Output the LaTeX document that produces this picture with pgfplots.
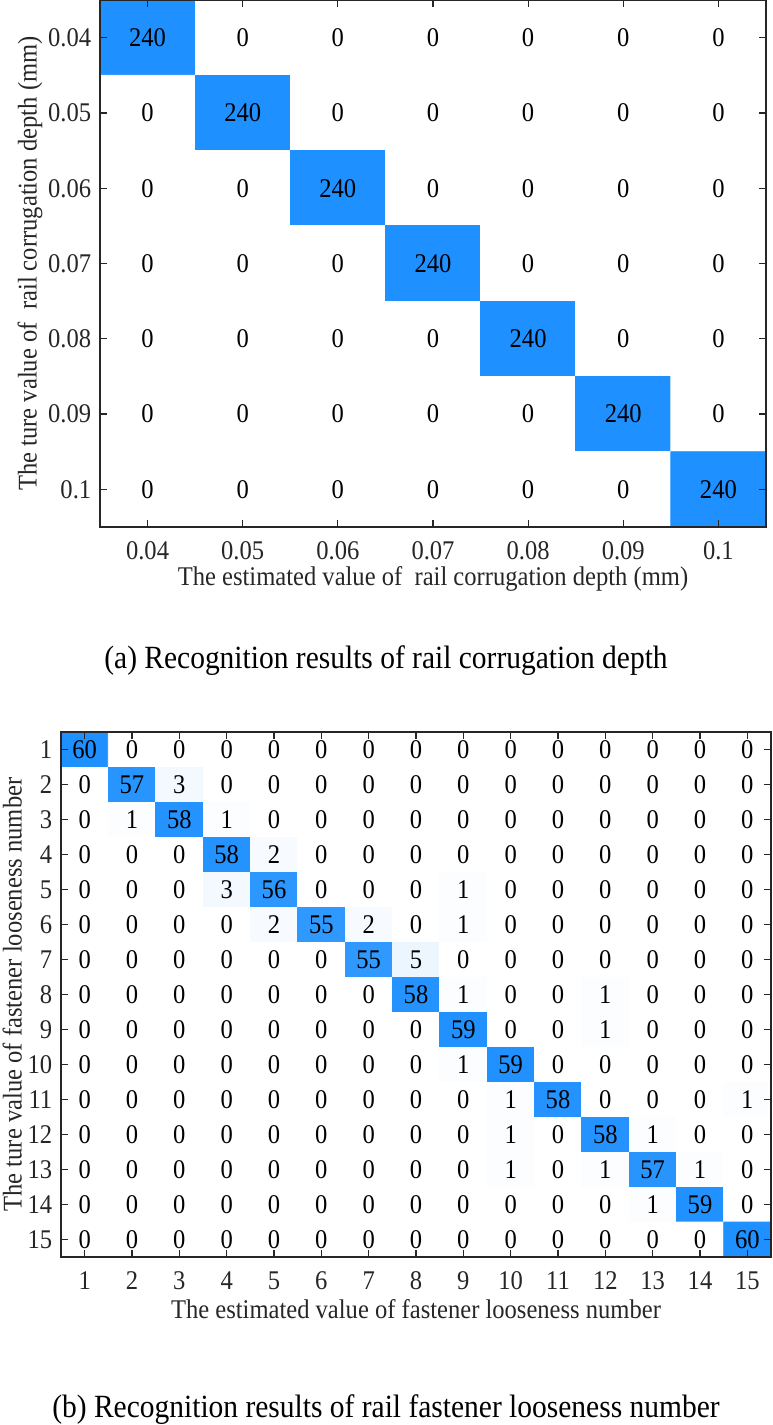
\documentclass[border=0pt]{standalone}
\usepackage{fontspec}
\setmainfont{Liberation Serif}[FakeStretch=0.91]
\usepackage{pgfplots}
\usepackage{pgfplotstable}
\pgfplotsset{compat=1.18}
\definecolor{mblue}{RGB}{30,144,255}
\definecolor{axgray}{RGB}{38,38,38}
\newcommand\mf{\fontsize{13.5}{16}\selectfont}
\newcommand\cf{\fontsize{16.2}{19.5}\selectfont}

\pgfplotstableread[row sep=\\]{
x y c\\
1 1 240\\ 2 1 0\\ 3 1 0\\ 4 1 0\\ 5 1 0\\ 6 1 0\\ 7 1 0\\
1 2 0\\ 2 2 240\\ 3 2 0\\ 4 2 0\\ 5 2 0\\ 6 2 0\\ 7 2 0\\
1 3 0\\ 2 3 0\\ 3 3 240\\ 4 3 0\\ 5 3 0\\ 6 3 0\\ 7 3 0\\
1 4 0\\ 2 4 0\\ 3 4 0\\ 4 4 240\\ 5 4 0\\ 6 4 0\\ 7 4 0\\
1 5 0\\ 2 5 0\\ 3 5 0\\ 4 5 0\\ 5 5 240\\ 6 5 0\\ 7 5 0\\
1 6 0\\ 2 6 0\\ 3 6 0\\ 4 6 0\\ 5 6 0\\ 6 6 240\\ 7 6 0\\
1 7 0\\ 2 7 0\\ 3 7 0\\ 4 7 0\\ 5 7 0\\ 6 7 0\\ 7 7 240\\
}\tabA

\pgfplotstableread[row sep=\\]{
x y c\\
1 1 60\\ 2 1 0\\ 3 1 0\\ 4 1 0\\ 5 1 0\\ 6 1 0\\ 7 1 0\\ 8 1 0\\ 9 1 0\\ 10 1 0\\ 11 1 0\\ 12 1 0\\ 13 1 0\\ 14 1 0\\ 15 1 0\\
1 2 0\\ 2 2 57\\ 3 2 3\\ 4 2 0\\ 5 2 0\\ 6 2 0\\ 7 2 0\\ 8 2 0\\ 9 2 0\\ 10 2 0\\ 11 2 0\\ 12 2 0\\ 13 2 0\\ 14 2 0\\ 15 2 0\\
1 3 0\\ 2 3 1\\ 3 3 58\\ 4 3 1\\ 5 3 0\\ 6 3 0\\ 7 3 0\\ 8 3 0\\ 9 3 0\\ 10 3 0\\ 11 3 0\\ 12 3 0\\ 13 3 0\\ 14 3 0\\ 15 3 0\\
1 4 0\\ 2 4 0\\ 3 4 0\\ 4 4 58\\ 5 4 2\\ 6 4 0\\ 7 4 0\\ 8 4 0\\ 9 4 0\\ 10 4 0\\ 11 4 0\\ 12 4 0\\ 13 4 0\\ 14 4 0\\ 15 4 0\\
1 5 0\\ 2 5 0\\ 3 5 0\\ 4 5 3\\ 5 5 56\\ 6 5 0\\ 7 5 0\\ 8 5 0\\ 9 5 1\\ 10 5 0\\ 11 5 0\\ 12 5 0\\ 13 5 0\\ 14 5 0\\ 15 5 0\\
1 6 0\\ 2 6 0\\ 3 6 0\\ 4 6 0\\ 5 6 2\\ 6 6 55\\ 7 6 2\\ 8 6 0\\ 9 6 1\\ 10 6 0\\ 11 6 0\\ 12 6 0\\ 13 6 0\\ 14 6 0\\ 15 6 0\\
1 7 0\\ 2 7 0\\ 3 7 0\\ 4 7 0\\ 5 7 0\\ 6 7 0\\ 7 7 55\\ 8 7 5\\ 9 7 0\\ 10 7 0\\ 11 7 0\\ 12 7 0\\ 13 7 0\\ 14 7 0\\ 15 7 0\\
1 8 0\\ 2 8 0\\ 3 8 0\\ 4 8 0\\ 5 8 0\\ 6 8 0\\ 7 8 0\\ 8 8 58\\ 9 8 1\\ 10 8 0\\ 11 8 0\\ 12 8 1\\ 13 8 0\\ 14 8 0\\ 15 8 0\\
1 9 0\\ 2 9 0\\ 3 9 0\\ 4 9 0\\ 5 9 0\\ 6 9 0\\ 7 9 0\\ 8 9 0\\ 9 9 59\\ 10 9 0\\ 11 9 0\\ 12 9 1\\ 13 9 0\\ 14 9 0\\ 15 9 0\\
1 10 0\\ 2 10 0\\ 3 10 0\\ 4 10 0\\ 5 10 0\\ 6 10 0\\ 7 10 0\\ 8 10 0\\ 9 10 1\\ 10 10 59\\ 11 10 0\\ 12 10 0\\ 13 10 0\\ 14 10 0\\ 15 10 0\\
1 11 0\\ 2 11 0\\ 3 11 0\\ 4 11 0\\ 5 11 0\\ 6 11 0\\ 7 11 0\\ 8 11 0\\ 9 11 0\\ 10 11 1\\ 11 11 58\\ 12 11 0\\ 13 11 0\\ 14 11 0\\ 15 11 1\\
1 12 0\\ 2 12 0\\ 3 12 0\\ 4 12 0\\ 5 12 0\\ 6 12 0\\ 7 12 0\\ 8 12 0\\ 9 12 0\\ 10 12 1\\ 11 12 0\\ 12 12 58\\ 13 12 1\\ 14 12 0\\ 15 12 0\\
1 13 0\\ 2 13 0\\ 3 13 0\\ 4 13 0\\ 5 13 0\\ 6 13 0\\ 7 13 0\\ 8 13 0\\ 9 13 0\\ 10 13 1\\ 11 13 0\\ 12 13 1\\ 13 13 57\\ 14 13 1\\ 15 13 0\\
1 14 0\\ 2 14 0\\ 3 14 0\\ 4 14 0\\ 5 14 0\\ 6 14 0\\ 7 14 0\\ 8 14 0\\ 9 14 0\\ 10 14 0\\ 11 14 0\\ 12 14 0\\ 13 14 1\\ 14 14 59\\ 15 14 0\\
1 15 0\\ 2 15 0\\ 3 15 0\\ 4 15 0\\ 5 15 0\\ 6 15 0\\ 7 15 0\\ 8 15 0\\ 9 15 0\\ 10 15 0\\ 11 15 0\\ 12 15 0\\ 13 15 0\\ 14 15 0\\ 15 15 60\\
}\tabB

\pgfplotsset{
  cm/.style={
    scale only axis, axis on top, enlargelimits=false,
    y dir=reverse,
    colormap={wb}{rgb255=(255,255,255) rgb255=(30,144,255)},
    point meta min=0,
    tick align=inside,
    xtick pos=both, ytick pos=both,
    major tick length=3.5pt,
    axis line style={axgray, line width=0.75pt},
    every tick/.style={axgray, line width=0.6pt},
    tick label style={font=\mf, text=axgray},
    label style={font=\mf, text=axgray, inner sep=1pt},
    xticklabel style={anchor=center, yshift=-12pt, inner sep=1pt},
    yticklabel style={inner sep=4.2pt},
    /pgf/number format/assume math mode=true,
    nodes near coords align={center},
    every node near coord/.append style={font=\mf, text=black, inner sep=1pt},
  }
}

\begin{document}
\begin{tikzpicture}
\useasboundingbox (0,0) rectangle (386pt,-712.5pt);

\begin{axis}[cm, at={(50pt,0pt)}, anchor=north west,
  width=333pt, height=263.5pt,
  xmin=0.5, xmax=7.5, ymin=0.5, ymax=7.5,
  xtick={1,...,7}, ytick={1,...,7},
  xticklabels={0.04,0.05,0.06,0.07,0.08,0.09,0.1},
  yticklabels={0.04,0.05,0.06,0.07,0.08,0.09,0.1},
  point meta max=240,
  xlabel={The estimated value of\ \ rail corrugation depth (mm)},
  ylabel={The ture value of\ \ rail corrugation depth (mm)},
  xlabel style={at={(axis description cs:0.5,-0.0985)}, anchor=center},
  ylabel style={at={(axis description cs:-0.1051,0.5)}, anchor=center},
]
\addplot[matrix plot*, mesh/cols=7, mesh/rows=7, point meta=explicit] table[x=x, y=y, meta=c] {\tabA};
\addplot[draw=none, mark=none, nodes near coords, point meta=explicit symbolic] table[x=x, y=y, meta=c] {\tabA};
\end{axis}

\node[font=\cf, text=black] at (193pt,-330.5pt) {(a) Recognition results of rail corrugation depth};

\begin{axis}[cm, at={(30.5pt,-366pt)}, anchor=north west,
  width=355pt, height=262.5pt,
  xmin=0.5, xmax=15.5, ymin=0.5, ymax=15.5,
  xtick={1,...,15}, ytick={1,...,15},
  point meta max=60,
  xlabel={The estimated value of fastener looseness number},
  ylabel={The ture value of fastener looseness number},
  xlabel style={at={(axis description cs:0.5,-0.1)}, anchor=center},
  ylabel style={at={(axis description cs:-0.0685,0.5)}, anchor=center},
]
\addplot[matrix plot*, mesh/cols=15, mesh/rows=15, point meta=explicit] table[x=x, y=y, meta=c] {\tabB};
\addplot[draw=none, mark=none, nodes near coords, point meta=explicit symbolic] table[x=x, y=y, meta=c] {\tabB};
\end{axis}

\node[font=\cf, text=black] at (193pt,-705pt) {(b) Recognition results of rail fastener looseness number};
\end{tikzpicture}
\end{document}
